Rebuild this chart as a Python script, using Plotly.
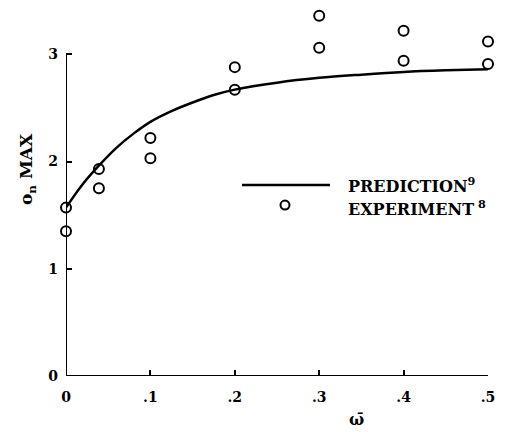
import plotly.graph_objects as go

# Experimental points (omega_bar, sigma_n max)
exp_x = [0.0, 0.0, 0.039, 0.039, 0.1, 0.1, 0.2, 0.2, 0.3, 0.3, 0.4, 0.4, 0.5, 0.5]
exp_y = [1.57, 1.35, 1.93, 1.75, 2.22, 2.03, 2.88, 2.67, 3.36, 3.06, 3.22, 2.94, 3.12, 2.91]

# Prediction curve
pred_x = [0.0, 0.02, 0.04, 0.06, 0.08, 0.1, 0.125, 0.15, 0.175, 0.2, 0.25, 0.3, 0.35, 0.4, 0.45, 0.5]
pred_y = [1.57, 1.79, 1.97, 2.13, 2.26, 2.37, 2.47, 2.55, 2.62, 2.67, 2.735, 2.78, 2.81, 2.835, 2.85, 2.86]

x_ticks = [0, 0.1, 0.2, 0.3, 0.4, 0.5]
x_tick_labels = ["0", ".1", ".2", ".3", ".4", ".5"]
y_ticks = [0, 1, 2, 3]
y_tick_labels = ["0", "1", "2", "3"]

FONT = "DejaVu Serif"
XMAX = 0.5
YTOP = 3.0

fig = go.Figure()
fig.add_trace(go.Scatter(
    x=pred_x, y=pred_y, mode="lines",
    line=dict(color="black", width=2.5, shape="spline", smoothing=1.0),
    cliponaxis=False, showlegend=False))
fig.add_trace(go.Scatter(
    x=exp_x, y=exp_y, mode="markers",
    marker=dict(symbol="circle-open", size=10, color="black", line=dict(width=2, color="black")),
    cliponaxis=False, showlegend=False))

# pixel -> coordinate helpers for legend / title placement (layout only)
def dx(px):
    return (px - 66) / 844.0

def dy(py):
    return (376 - py) / 107.3

def px_(px):
    return (px - 66) / 422.0

def py_(py):
    return (376 - py) / 370.0

fig.update_layout(
    width=505, height=432,
    margin=dict(l=66, r=17, t=6, b=56),
    paper_bgcolor="white", plot_bgcolor="white",
    font=dict(family=FONT, color="black", size=13),
    xaxis=dict(range=[0, 0.5], tickvals=x_ticks, ticktext=[f"<b>{t}</b>" for t in x_tick_labels],
               showline=False, ticks="inside", ticklabelstandoff=11,
               ticklen=6, tickwidth=1.5, tickcolor="black", showgrid=False, zeroline=False,
               tickfont=dict(family=FONT, size=14, color="black"), fixedrange=True),
    yaxis=dict(range=[0, 3.45], tickvals=y_ticks, ticktext=[f"<b>{t}</b>" for t in y_tick_labels],
               showline=False, ticks="inside", ticklabelstandoff=7,
               ticklen=6, tickwidth=1.5, tickcolor="black", showgrid=False, zeroline=False,
               tickfont=dict(family=FONT, size=14, color="black"), fixedrange=True),
    annotations=[
        dict(text="<b>o<sub>n</sub> MAX</b>", xref="paper", yref="paper",
             x=px_(27), y=py_(169), xanchor="center", yanchor="middle",
             textangle=-90, showarrow=False,
             font=dict(family=FONT, size=17, color="black")),
        dict(text="<b>ω\u0304</b>", xref="paper", yref="paper", x=px_(356), y=py_(419),
             xanchor="center", yanchor="middle",
             showarrow=False, font=dict(family=FONT, size=16, color="black")),
        dict(text="<b>PREDICTION<sup>9</sup></b>", xref="paper", yref="paper",
             x=px_(346), y=py_(185), xanchor="left", yanchor="middle", showarrow=False,
             font=dict(family=FONT, size=16, color="black")),
        dict(text="<b>EXPERIMENT<sup> 8</sup></b>", xref="paper", yref="paper",
             x=px_(346), y=py_(208), xanchor="left", yanchor="middle", showarrow=False,
             font=dict(family=FONT, size=16, color="black")),
    ],
    shapes=[
        # axis lines
        dict(type="line", xref="x", yref="y", x0=0, x1=XMAX, y0=0, y1=0,
             line=dict(color="black", width=2)),
        dict(type="line", xref="x", yref="y", x0=0, x1=0, y0=0, y1=YTOP,
             line=dict(color="black", width=2)),
        # legend line
        dict(type="line", xref="x", yref="y", x0=dx(242), x1=dx(330), y0=dy(185), y1=dy(185),
             line=dict(color="black", width=2.5)),
        # legend circle
        dict(type="circle", xref="x", yref="y", x0=dx(280.5), x1=dx(289.5),
             y0=dy(209.5), y1=dy(200.5), line=dict(color="black", width=2)),
    ],
)

fig.write_html("out.html")
